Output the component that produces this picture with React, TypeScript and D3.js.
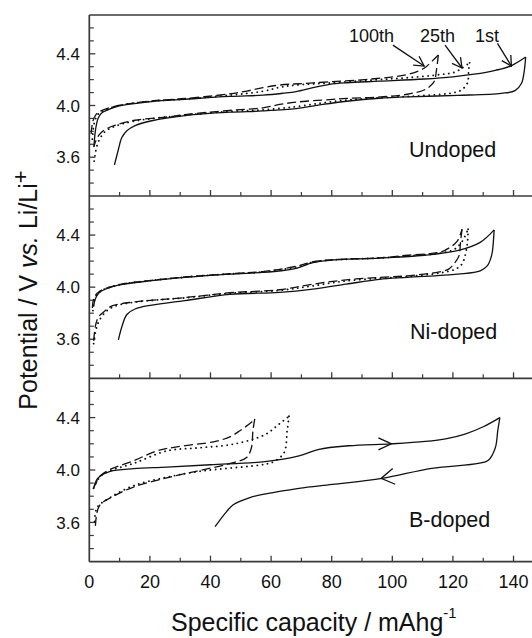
import React from "react";
import * as d3 from "d3";

type Pt = [number, number];

// ---------- axes / labels ----------
const xMajorTicks = [0, 20, 40, 60, 80, 100, 120, 140];
const xMinorTicks = [10, 30, 50, 70, 90, 110, 130];
const yLabelTicks = [3.6, 4.0, 4.4];
const yMinorTicks = [3.4, 3.5, 3.7, 3.8, 3.9, 4.1, 4.2, 4.3, 4.5, 4.6];
const panelNames = ["Undoped", "Ni-doped", "B-doped"];
const cycleNames = ["1st", "25th", "100th"];

// ---------- Undoped ----------
const undoped1stCharge: Pt[] = [[1.5,3.68],[2.1,3.82],[2.9,3.9],[4,3.94],[5.3,3.958],[9.6,3.995],[20.6,4.03],[31.6,4.048],[46.4,4.07],[57.3,4.08],[64,4.095],[68.3,4.108],[73.8,4.138],[79.3,4.164],[85,4.176],[95.7,4.188],[110.5,4.205],[120,4.222],[127,4.242],[134,4.272],[139,4.305],[144,4.375]];
const undoped1stDischarge: Pt[] = [[144,4.375],[143.5,4.26],[142.6,4.17],[140.5,4.115],[136,4.094],[121.5,4.078],[105,4.067],[95.7,4.056],[85,4.033],[77,4.008],[68.3,3.976],[57.3,3.958],[46.4,3.948],[31.6,3.922],[20.6,3.882],[15.1,3.845],[12.4,3.805],[10.7,3.75],[9.6,3.66],[8.3,3.54]];
const undoped25thCharge: Pt[] = [[1.0,3.74],[1.6,3.86],[2.8,3.93],[4.5,3.958],[9.6,3.998],[20.6,4.033],[31.6,4.05],[46.4,4.08],[57.3,4.11],[62.8,4.14],[68,4.158],[79,4.174],[94,4.198],[105,4.215],[116,4.24],[120.4,4.256],[123,4.29],[125.5,4.33]];
const undoped25thDischarge: Pt[] = [[125.5,4.33],[125.2,4.28],[124.8,4.175],[122.8,4.12],[120.4,4.1],[116,4.086],[105,4.07],[94,4.058],[85,4.042],[77,4.02],[68,3.99],[57.3,3.966],[46.4,3.955],[31.6,3.925],[15.1,3.88],[8.6,3.84],[5.3,3.8],[3,3.72],[2,3.63],[1.4,3.53]];
const undoped100thCharge: Pt[] = [[0.6,3.78],[1.2,3.88],[2.2,3.93],[4,3.96],[9.6,4.0],[20.6,4.036],[31.6,4.054],[46.4,4.09],[52,4.112],[57.3,4.138],[62.8,4.158],[73.8,4.175],[94,4.207],[105,4.24],[110.5,4.288],[113,4.34],[115.2,4.39]];
const undoped100thDischarge: Pt[] = [[115.2,4.39],[114.6,4.28],[113.9,4.19],[112.5,4.15],[110.5,4.12],[105,4.087],[95,4.065],[85,4.055],[79.3,4.046],[68.3,4.026],[62.8,4.008],[57.3,3.982],[46.4,3.962],[31.6,3.93],[26,3.912],[15.1,3.886],[8.6,3.848],[5.3,3.815],[3.5,3.78],[2.2,3.73],[1.5,3.68]];

// ---------- Ni-doped ----------
const niDoped1stCharge: Pt[] = [[1.4,3.85],[2,3.91],[3,3.95],[4.2,3.972],[9.6,4.015],[20.6,4.05],[31.6,4.075],[46.4,4.1],[57.3,4.113],[64,4.128],[68.3,4.145],[73.8,4.188],[79.3,4.206],[95.7,4.223],[110.5,4.245],[121.5,4.28],[129,4.344],[133.6,4.44]];
const niDoped1stDischarge: Pt[] = [[133.6,4.44],[133,4.27],[132.4,4.215],[131.4,4.165],[129,4.125],[121.5,4.1],[105,4.075],[95.7,4.06],[84.8,4.023],[73.8,3.985],[62.8,3.96],[46.4,3.944],[31.6,3.897],[20.6,3.862],[15.1,3.832],[12.4,3.79],[10.8,3.7],[9.6,3.595]];
const niDoped25thCharge: Pt[] = [[1.2,3.82],[1.8,3.91],[3.5,3.965],[9.6,4.017],[20.6,4.051],[31.6,4.077],[46.4,4.102],[57.3,4.117],[68.3,4.155],[73.8,4.192],[79.3,4.208],[95.7,4.224],[105,4.24],[116,4.262],[120.4,4.29],[123,4.35],[125,4.445]];
const niDoped25thDischarge: Pt[] = [[125,4.445],[124.8,4.344],[124,4.24],[123,4.177],[121,4.14],[116,4.11],[105,4.082],[95.7,4.068],[84.8,4.048],[73.8,4.01],[62.8,3.975],[46.4,3.953],[31.6,3.918],[15.1,3.885],[8,3.85],[5,3.8],[3,3.73],[2,3.65],[1.4,3.56]];
const niDoped100thCharge: Pt[] = [[1.0,3.84],[1.6,3.92],[3.5,3.97],[9.6,4.018],[20.6,4.052],[31.6,4.078],[46.4,4.103],[57.3,4.12],[68.3,4.16],[73.8,4.195],[79.3,4.21],[95.7,4.225],[105,4.245],[116,4.27],[119,4.305],[121.5,4.355],[123,4.445]];
const niDoped100thDischarge: Pt[] = [[123,4.445],[122.5,4.344],[122,4.24],[120.7,4.19],[118.7,4.14],[116,4.12],[105,4.087],[95.7,4.075],[84.8,4.056],[73.8,4.023],[62.8,3.98],[46.4,3.957],[31.6,3.92],[15.1,3.887],[7.5,3.856],[5.3,3.82],[3,3.77],[2,3.7],[1.4,3.57]];

// ---------- B-doped ----------
const bDoped1stCharge: Pt[] = [[1.4,3.86],[2.3,3.92],[3.6,3.954],[6.9,3.99],[14.6,4.01],[25.6,4.022],[40,4.04],[57.9,4.064],[69.2,4.108],[75.8,4.158],[85.6,4.185],[99.9,4.2],[110.9,4.218],[118,4.24],[124,4.274],[130,4.33],[135.5,4.4]];
const bDoped1stDischarge: Pt[] = [[135.5,4.4],[134.8,4.3],[134,4.17],[131.7,4.075],[128.4,4.05],[113,4.013],[96.6,3.936],[80.2,3.89],[69.2,3.86],[58.2,3.818],[53,3.79],[47.5,3.735],[45.3,3.682],[41.5,3.567]];
const bDoped25thCharge: Pt[] = [[1.4,3.86],[3.6,3.95],[6.9,3.995],[14.6,4.05],[25.6,4.146],[36.5,4.17],[47.5,4.197],[58,4.27],[62.6,4.35],[65.9,4.41]];
const bDoped25thDischarge: Pt[] = [[65.9,4.41],[65.3,4.3],[64.3,4.133],[61,4.065],[58,4.044],[36.5,3.99],[25.6,3.945],[14.6,3.88],[6.9,3.79],[2.5,3.71],[1.75,3.57]];
const bDoped100thCharge: Pt[] = [[1.4,3.86],[3.6,3.954],[6.9,4.005],[14.6,4.07],[22.3,4.146],[28.9,4.177],[42,4.22],[47,4.26],[49.7,4.3],[53.5,4.364],[54.6,4.39]];
const bDoped100thDischarge: Pt[] = [[54.6,4.39],[54,4.3],[53.5,4.17],[51.9,4.095],[47.5,4.056],[25.6,3.94],[14.6,3.87],[8,3.8],[3.6,3.736],[2.5,3.67],[2,3.57]];

// direction chevrons on the B-doped 1st cycle [capacity, potential, direction]
const bDopedChevrons: [number, number, number][] = [[99.7, 4.2, 1], [96.3, 3.936, -1]];

// cycle annotation arrows on the Undoped panel: label, text anchor, arrow tail, arrow tip
const annotationTargets: Pt[] = [[110.5, 4.305], [123, 4.29], [139.3, 4.305]];
const annotationTails: Pt[] = [[100.2, 4.467], [117.4, 4.467], [134.7, 4.48]];
const annotationTextPos: Pt[] = [[85.7, 4.494], [109.1, 4.494], [127.3, 4.494]];
const annotationLabels = ["100th", "25th", "1st"];

const panels = [
  { name: panelNames[0], cycles: [[undoped1stCharge, undoped1stDischarge], [undoped25thCharge, undoped25thDischarge], [undoped100thCharge, undoped100thDischarge]] },
  { name: panelNames[1], cycles: [[niDoped1stCharge, niDoped1stDischarge], [niDoped25thCharge, niDoped25thDischarge], [niDoped100thCharge, niDoped100thDischarge]] },
  { name: panelNames[2], cycles: [[bDoped1stCharge, bDoped1stDischarge], [bDoped25thCharge, bDoped25thDischarge], [bDoped100thCharge, bDoped100thDischarge]] },
];

export default function App() {
  const W = 532, H = 638;
  const left = 89.3, right = 531.7;
  const edges = [15, 196, 378.3, 561.7];
  const x = d3.scaleLinear().domain([0, 146]).range([left, right]);
  const font = "'Liberation Sans', Arial, Helvetica, sans-serif";
  const ink = "#111";
  const frame = "#3a3a3a";

  const cycleStyle: Record<string, any> = {
    "1st": { strokeWidth: 1.3 },
    "25th": { strokeWidth: 1.9, strokeDasharray: "0.01 5.2", strokeLinecap: "round" },
    "100th": { strokeWidth: 1.3, strokeDasharray: "9 4" },
  };
  const labelX = [409, 410, 409];
  const labelY = [157, 338.7, 527];

  const yScales = panels.map((_, i) => d3.scaleLinear().domain([3.3, 4.7]).range([edges[i + 1], edges[i]]));

  const arrowHead = (x1: number, y1: number, x2: number, y2: number, L = 11, phi = 0.5) => {
    const th = Math.atan2(y2 - y1, x2 - x1);
    const a = [x2 - L * Math.cos(th - phi), y2 - L * Math.sin(th - phi)];
    const b = [x2 - L * Math.cos(th + phi), y2 - L * Math.sin(th + phi)];
    return `M${a[0]},${a[1]}L${x2},${y2}L${b[0]},${b[1]}`;
  };

  return (
    <div style={{ position: "fixed", left: 0, top: 0, width: W, height: H, background: "#fff" }}>
      <svg width={W} height={H} viewBox={`0 0 ${W} ${H}`} style={{ display: "block", fontFamily: font }}>
        <rect x={0} y={0} width={W} height={H} fill="#fff" />
        {panels.map((p, i) => {
          const y = yScales[i];
          const line = d3.line<Pt>().x(d => x(d[0])).y(d => y(d[1])).curve(d3.curveCatmullRom.alpha(0.5));
          const bottom = edges[i + 1];
          return (
            <g key={p.name}>
              {xMajorTicks.filter(t => t > 0).map(t => (
                <line key={"M" + t} x1={x(t)} x2={x(t)} y1={bottom} y2={bottom - 6} stroke={frame} strokeWidth={1.3} />
              ))}
              {xMinorTicks.map(t => (
                <line key={"m" + t} x1={x(t)} x2={x(t)} y1={bottom} y2={bottom - 4} stroke={frame} strokeWidth={1.2} />
              ))}
              {yLabelTicks.map(t => (
                <g key={"yl" + t}>
                  <line x1={left} x2={left + 6} y1={y(t)} y2={y(t)} stroke={frame} strokeWidth={1.3} />
                  <text x={80} y={y(t)} dy="0.36em" textAnchor="end" fontSize={17} fill={ink}>{t.toFixed(1)}</text>
                </g>
              ))}
              {yMinorTicks.map(t => (
                <line key={"ym" + t} x1={left} x2={left + 4.5} y1={y(t)} y2={y(t)} stroke={frame} strokeWidth={1.2} />
              ))}
              {p.cycles.map((cyc, k) => (
                <g key={k} fill="none" stroke={ink} {...cycleStyle[cycleNames[k]]}>
                  <path d={line(cyc[0] as Pt[]) || ""} />
                  <path d={line(cyc[1] as Pt[]) || ""} />
                </g>
              ))}
              <text x={labelX[i]} y={labelY[i]} fontSize={21.5} fill={ink}>{p.name}</text>
            </g>
          );
        })}

        {bDopedChevrons.map(([c, v, dir], k) => {
          const y = yScales[2];
          const px = x(c), py = y(v);
          const ang = dir > 0 ? 0 : -9;
          return (
            <path key={k} transform={`translate(${px},${py}) rotate(${ang})`}
              d={dir > 0 ? "M-13,-6L0,0L-13,6" : "M13,-8L0,0L13,8"} fill="none" stroke={ink} strokeWidth={1.3} />
          );
        })}

        {annotationLabels.map((lab, k) => {
          const y = yScales[0];
          const x1 = x(annotationTails[k][0]), y1 = y(annotationTails[k][1]);
          const x2 = x(annotationTargets[k][0]), y2 = y(annotationTargets[k][1]);
          return (
            <g key={lab}>
              <text x={x(annotationTextPos[k][0])} y={y(annotationTextPos[k][1])} fontSize={18} fill={ink}>{lab}</text>
              <line x1={x1} y1={y1} x2={x2} y2={y2} stroke={ink} strokeWidth={1.3} />
              <path d={arrowHead(x1, y1, x2, y2)} fill="none" stroke={ink} strokeWidth={1.3} />
            </g>
          );
        })}

        <line x1={left} x2={left} y1={edges[0]} y2={edges[3]} stroke={frame} strokeWidth={1.7} />
        {edges.map((e, k) => (
          <line key={k} x1={left} x2={W} y1={e} y2={e} stroke={frame} strokeWidth={1.7} />
        ))}

        {xMajorTicks.map(t => (
          <text key={t} x={x(t)} y={588} textAnchor="middle" fontSize={18} fill={ink}>{String(t)}</text>
        ))}

        <text x={171} y={631} fontSize={25} fill={ink}>
          Specific capacity / mAhg<tspan fontSize={15} dy={-13}>-1</tspan>
        </text>
        <text transform="translate(36.5,290) rotate(-90)" textAnchor="middle" fontSize={25} fill={ink}>
          Potential / V <tspan fontStyle="italic">vs.</tspan> Li/Li<tspan fontSize={22} dy={-9}>+</tspan>
        </text>
      </svg>
    </div>
  );
}
